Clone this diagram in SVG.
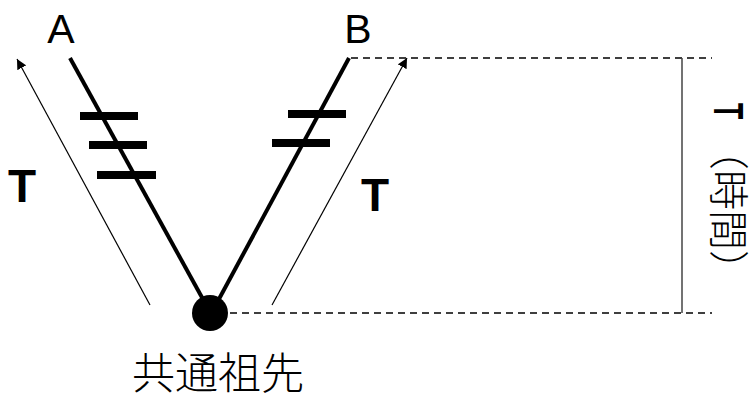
<svg xmlns="http://www.w3.org/2000/svg" width="750" height="396" viewBox="0 0 750 396">
<defs>
<marker id="arr" viewBox="0 0 10 10" refX="10" refY="5" markerWidth="10" markerHeight="10" markerUnits="userSpaceOnUse" orient="auto"><path d="M0,0 L10,5 L0,10 z" fill="#000"/></marker>
<style>
.lin{stroke:#000;stroke-width:4;fill:none}
.bar{fill:#000}
.thin{stroke:#000;stroke-width:1.2;fill:none}
.dash{stroke:#000;stroke-width:1.5;stroke-dasharray:7,5;fill:none}
.lab{font-family:"Liberation Sans",Arial,sans-serif;font-size:41px;fill:#000}
.bt{font-family:"Liberation Sans",Arial,sans-serif;font-size:46px;font-weight:bold;fill:#000}
.cjk{font-family:"Noto Sans CJK JP","Noto Sans",sans-serif;fill:#000;font-weight:300}
</style>
</defs>
<g id="connectors">
<line class="lin" x1="70" y1="58" x2="210" y2="312"/>
<line class="lin" x1="349" y1="58" x2="212" y2="312"/>
<line class="thin" x1="150" y1="305" x2="17" y2="59" marker-end="url(#arr)"/>
<line class="thin" x1="272" y1="305" x2="407" y2="58" marker-end="url(#arr)"/>
<line class="dash" x1="351" y1="58" x2="712" y2="58"/>
<line class="dash" x1="230" y1="313" x2="712" y2="313"/>
<line x1="682" y1="58" x2="682" y2="313" stroke="#444" stroke-width="1.5"/>
</g>
<g id="markersA">
<rect class="bar" x="80" y="112" width="58" height="8"/>
<rect class="bar" x="89" y="141" width="58" height="8"/>
<rect class="bar" x="97" y="171" width="59" height="8"/>
</g>
<g id="markersB">
<rect class="bar" x="288" y="110" width="58" height="8"/>
<rect class="bar" x="272" y="139" width="58" height="8"/>
</g>
<g id="ancestor">
<circle cx="210" cy="313" r="18" fill="#000"/>
<text class="cjk" x="218" y="389" font-size="43" text-anchor="middle">共通祖先</text>
</g>
<g id="nodeA"><text class="lab" x="61" y="43" text-anchor="middle">A</text></g>
<g id="nodeB"><text class="lab" x="358" y="43" text-anchor="middle">B</text></g>
<g id="labelT1"><text class="bt" x="22" y="202" text-anchor="middle">T</text></g>
<g id="labelT2"><text class="bt" x="375" y="211" text-anchor="middle">T</text></g>
<g id="labelTime">
<text font-family="'Liberation Sans',Arial,sans-serif" font-size="43" font-weight="bold" fill="#000" transform="translate(714,103) rotate(90) scale(0.62,1)">T</text>
<text class="cjk" font-size="40" font-weight="400" transform="translate(714,130) rotate(90)">（時間）</text>
</g>
</svg>
